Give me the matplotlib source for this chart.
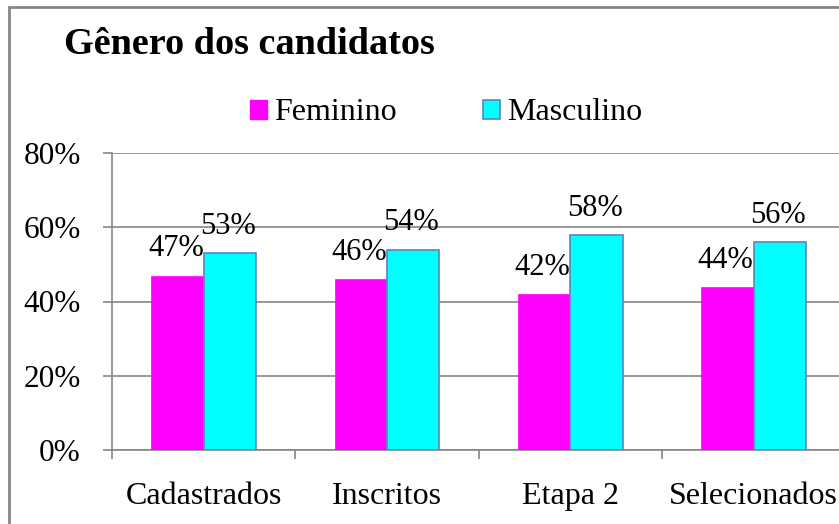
import numpy as np
import matplotlib
matplotlib.use("Agg")
from matplotlib import pyplot as plt
from matplotlib.patches import Rectangle

categorias = ["Cadastrados", "Inscritos", "Etapa 2", "Selecionados"]
feminino = [47, 46, 42, 44]
masculino = [53, 54, 58, 56]
y_ticks = [0, 20, 40, 60, 80]

plt.rcParams['font.family'] = ['Liberation Serif', 'DejaVu Serif']

W, H = 839, 524
fig = plt.figure(figsize=(W / 100, H / 100), dpi=100)

# area do grafico (passa da borda direita, como no original)
left, right = 112, 112 + 4 * 183.3
bottom, top = 450, 153
ax = fig.add_axes([left / W, 1 - bottom / H, (right - left) / W, (bottom - top) / H])

x = np.arange(len(categorias))
bw = 0.286
ax.bar(x - bw / 2, feminino, bw, color="#FF00FF", edgecolor="#FF00FF", linewidth=0.5, zorder=3)
ax.bar(x + bw / 2, masculino, bw, color="#00FFFF", edgecolor="#5B84C0", linewidth=1.2, zorder=3)

for i in range(len(categorias)):
    ax.annotate(f"{feminino[i]}%", (x[i] - bw / 2, feminino[i]), xytext=(-1.2, 13.7),
                textcoords="offset points", ha="center", va="baseline", fontsize=22)
    ax.annotate(f"{masculino[i]}%", (x[i] + bw / 2, masculino[i]), xytext=(-1.2, 13.7),
                textcoords="offset points", ha="center", va="baseline", fontsize=22)

ax.set_xlim(-0.5, len(categorias) - 0.5)
ax.set_ylim(0, 80)
ax.set_yticks(y_ticks)
ax.set_yticklabels([f"{v}%" for v in y_ticks], fontsize=22.5)
ax.set_xticks(x)
ax.set_xticklabels(categorias, fontsize=23)
ax.set_xticks(np.arange(len(categorias) + 1) - 0.5, minor=True)
ax.tick_params(axis="x", which="major", length=0, pad=23)
ax.tick_params(axis="x", which="minor", length=6.5, width=1.2, color="#868686", direction="out")
ax.tick_params(axis="y", length=6.5, width=1.2, color="#868686", pad=16)
ax.grid(axis="y", color="#868686", linewidth=1.2, zorder=0)
for s in ["top", "right"]:
    ax.spines[s].set_visible(False)
for s in ["left", "bottom"]:
    ax.spines[s].set_color("#868686")
    ax.spines[s].set_linewidth(1.2)

fig.text(64 / W, 1 - 45 / H, "Gênero dos candidatos", fontsize=27.5, fontweight="bold",
         ha="left", va="center")

h1 = Rectangle((0, 0), 1, 1, facecolor="#FF00FF", edgecolor="#FF00FF")
h2 = Rectangle((0, 0), 1, 1, facecolor="#00FFFF", edgecolor="#5B84C0", linewidth=1.2)
fig.legend([h1, h2], ["Feminino", "Masculino"], loc="center left",
           bbox_to_anchor=(250 / W, 1 - 113 / H), ncol=2, frameon=False, fontsize=23,
           borderpad=0, borderaxespad=0,
           handlelength=0.53, handleheight=0.53, handletextpad=0.22, columnspacing=2.7)

# borda do grafico
fig.patches.append(Rectangle((9 / W, -0.1), 1.2, 1 - 7 / H + 0.1, transform=fig.transFigure,
                             fill=False, edgecolor="#868686", linewidth=2))

fig.savefig("out.png", dpi=100)
